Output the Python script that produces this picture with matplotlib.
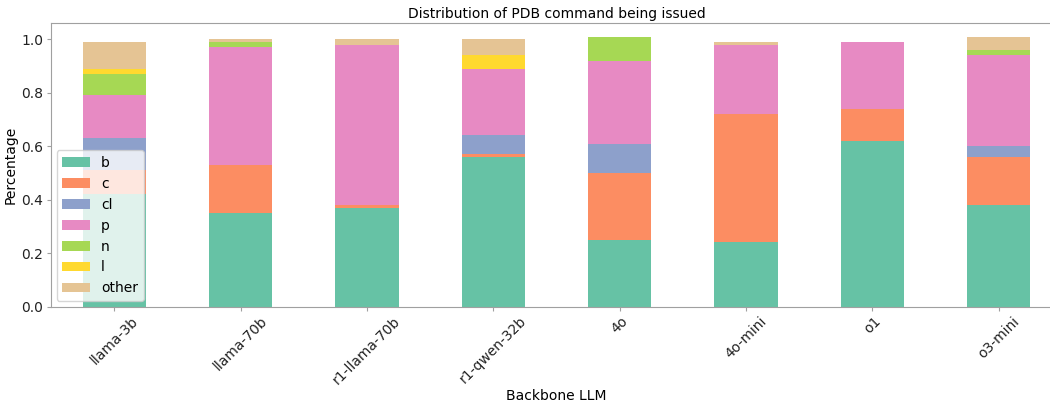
import matplotlib
matplotlib.use("Agg")
import matplotlib.pyplot as plt
import numpy as np

models = ["llama-3b", "llama-70b", "r1-llama-70b", "r1-qwen-32b", "4o", "4o-mini", "o1", "o3-mini"]
commands = ["b", "c", "cl", "p", "n", "l", "other"]

b_vals     = [0.42, 0.35, 0.37, 0.56, 0.25, 0.24, 0.62, 0.38]
c_vals     = [0.09, 0.18, 0.01, 0.01, 0.25, 0.48, 0.12, 0.18]
cl_vals    = [0.12, 0.00, 0.00, 0.07, 0.11, 0.00, 0.00, 0.04]
p_vals     = [0.16, 0.44, 0.60, 0.25, 0.31, 0.26, 0.25, 0.34]
n_vals     = [0.08, 0.02, 0.00, 0.00, 0.09, 0.00, 0.00, 0.02]
l_vals     = [0.02, 0.00, 0.00, 0.05, 0.00, 0.00, 0.00, 0.00]
other_vals = [0.10, 0.01, 0.02, 0.06, 0.00, 0.01, 0.00, 0.05]

series = [b_vals, c_vals, cl_vals, p_vals, n_vals, l_vals, other_vals]
colors = ["#66c2a5", "#fc8d62", "#8da0cb", "#e78ac3", "#a6d854", "#ffd92f", "#e5c494"]

fig = plt.figure(figsize=(10.5, 4.04), dpi=100)
ax = fig.add_axes([51/1050, 1-306.5/404, (1062-51)/1050, (306.5-23)/404])

x = np.arange(len(models))
bottom = np.zeros(len(models))
for name, vals, col in zip(commands, series, colors):
    v = np.array(vals)
    ax.bar(x, v, 0.5, bottom=bottom, color=col, label=name, linewidth=0)
    bottom += v

ax.set_xlim(-0.5, len(models) - 0.5)
ax.set_ylim(0, 1.061)
ax.set_yticks([0.0, 0.2, 0.4, 0.6, 0.8, 1.0])
ax.set_xticks(x)
ax.set_xticklabels(models, rotation=45, fontsize=10)
ax.tick_params(axis="y", labelsize=10)
ax.tick_params(axis="both", length=3, pad=2.5, colors="#a0a0a0", labelcolor="#222222")
for s in ax.spines.values():
    s.set_color("#a0a0a0")
ax.set_title("Distribution of PDB command being issued", fontsize=10, pad=3.5)
ax.set_ylabel("Percentage", fontsize=10, labelpad=3)
ax.set_xlabel("Backbone LLM", fontsize=10, labelpad=1)
ax.legend(loc="lower left", fontsize=10, borderaxespad=0.4)

fig.savefig("out.png", dpi=100)
